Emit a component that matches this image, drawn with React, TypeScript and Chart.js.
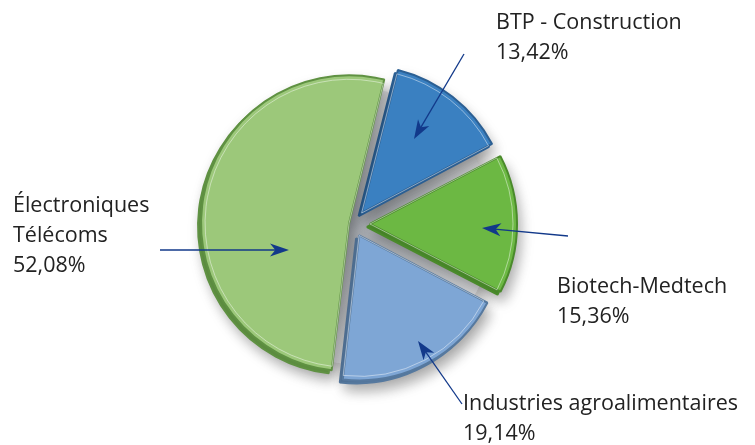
import React, { useEffect, useRef } from "react";
import { Chart, registerables } from "chart.js";

Chart.register(...registerables);

// ---- data ----
const categories = [
  "BTP - Construction",
  "Biotech-Medtech",
  "Industries agroalimentaires",
  "Électroniques Télécoms",
];
const shares = [13.42, 15.36, 19.14, 52.08];
const labelLines = [
  ["BTP - Construction"],
  ["Biotech-Medtech"],
  ["Industries agroalimentaires"],
  ["Électroniques", "Télécoms"],
];
const fillColors = ["#3a80c1", "#6cb843", "#7ea6d5", "#9cc87a"];
const rimColors = ["#2b5f93", "#4a8a2b", "#56799f", "#5f9142"];
const explode = [56, 68, 52, 16];

const formatShare = (v: number) => v.toFixed(2).replace(".", ",") + "%";

// annotation layout (label text anchor, arrow tail, arrow head)
const labelLayout = [
  { x: 496, y: 29, tail: [464, 54], head: [414, 139] },
  { x: 557, y: 293, tail: [568, 236], head: [482, 228] },
  { x: 463, y: 410, tail: [462, 404], head: [418, 341] },
  { x: 13, y: 212, tail: [160, 250], head: [289, 250] },
];
const LINE_H = 30;
const FONT = '21.5px "Open Sans", sans-serif';
const TEXT_COLOR = "#222222";
const ARROW_COLOR = "#12398a";

function drawArcVariant(ctx: CanvasRenderingContext2D, arc: any, overrides: any, props: any = {}) {
  const proxy = Object.create(arc);
  Object.assign(proxy, props);
  proxy.options = { ...arc.options, ...overrides };
  arc.draw.call(proxy, ctx);
}

const pie3dPlugin = {
  id: "pie3d",
  beforeDatasetsDraw(chart: any) {
    const ctx: CanvasRenderingContext2D = chart.ctx;
    const meta = chart.getDatasetMeta(0);
    const a0 = meta.data[0];
    // grey base disc
    ctx.save();
    const g = ctx.createRadialGradient(a0.x, a0.y, 0, a0.x, a0.y, a0.outerRadius);
    g.addColorStop(0, "#a9adb3");
    g.addColorStop(0.6, "#c4c7cb");
    g.addColorStop(1, "#e4e5e7");
    ctx.fillStyle = g;
    ctx.shadowColor = "rgba(0,0,0,0.25)";
    ctx.shadowBlur = 16;
    ctx.shadowOffsetX = 5;
    ctx.shadowOffsetY = 6;
    ctx.beginPath();
    ctx.arc(a0.x + 2, a0.y + 2, a0.outerRadius * 0.96, 0, Math.PI * 2);
    ctx.fill();
    ctx.restore();
    // extruded sides with drop shadow
    meta.data.forEach((arc: any, i: number) => {
      ctx.save();
      ctx.shadowColor = "rgba(0,0,0,0.35)";
      ctx.shadowBlur = 14;
      ctx.shadowOffsetX = 5;
      ctx.shadowOffsetY = 6;
      ctx.translate(-3, 3);
      drawArcVariant(ctx, arc, { backgroundColor: rimColors[i], borderColor: rimColors[i] });
      ctx.restore();
    });
  },
  afterDatasetsDraw(chart: any) {
    const ctx: CanvasRenderingContext2D = chart.ctx;
    const meta = chart.getDatasetMeta(0);
    // inner highlight line
    meta.data.forEach((arc: any) => {
      ctx.save();
      drawArcVariant(
        ctx,
        arc,
        { backgroundColor: "rgba(0,0,0,0)", borderColor: "rgba(255,255,255,0.45)", borderWidth: 1 },
        { outerRadius: arc.outerRadius - 4 }
      );
      ctx.restore();
    });
    // labels + arrows
    ctx.save();
    ctx.font = FONT;
    ctx.fillStyle = TEXT_COLOR;
    ctx.textBaseline = "alphabetic";
    ctx.textAlign = "left";
    labelLayout.forEach((l, i) => {
      const lines = [...labelLines[i], formatShare(shares[i])];
      lines.forEach((t, k) => ctx.fillText(t, l.x, l.y + k * LINE_H));
      // arrow
      const [tx, ty] = l.tail;
      const [hx, hy] = l.head;
      const ang = Math.atan2(hy - ty, hx - tx);
      const len = 19;
      const hw = 6.5;
      const bx = hx - Math.cos(ang) * len;
      const by = hy - Math.sin(ang) * len;
      ctx.strokeStyle = ARROW_COLOR;
      ctx.lineWidth = 1.3;
      ctx.beginPath();
      ctx.moveTo(tx, ty);
      ctx.lineTo(hx - Math.cos(ang) * 10, hy - Math.sin(ang) * 10);
      ctx.stroke();
      ctx.fillStyle = ARROW_COLOR;
      ctx.beginPath();
      ctx.moveTo(hx, hy);
      ctx.lineTo(bx - Math.sin(ang) * hw, by + Math.cos(ang) * hw);
      ctx.lineTo(hx - Math.cos(ang) * len * 0.72, hy - Math.sin(ang) * len * 0.72);
      ctx.lineTo(bx + Math.sin(ang) * hw, by - Math.cos(ang) * hw);
      ctx.closePath();
      ctx.fill();
      ctx.fillStyle = TEXT_COLOR;
    });
    ctx.restore();
  },
};

export default function App() {
  const ref = useRef<HTMLCanvasElement>(null);
  useEffect(() => {
    if (!ref.current) return;
    const chart = new Chart(ref.current, {
      type: "pie",
      data: {
        labels: categories,
        datasets: [
          {
            data: shares,
            backgroundColor: fillColors,
            borderColor: rimColors,
            borderWidth: 2,
            offset: explode,
          },
        ],
      },
      options: {
        responsive: false,
        devicePixelRatio: 1,
        animation: false,
        rotation: 14,
        radius: 144,
        layout: { padding: { left: 0, right: 49, top: 3, bottom: 0 } },
        plugins: {
          legend: { display: false },
          tooltip: { enabled: false },
        },
        events: [],
      },
      plugins: [pie3dPlugin],
    } as any);
    return () => chart.destroy();
  }, []);
  return (
    <div style={{ position: "absolute", left: 0, top: 0, width: 755, height: 445, background: "#fff" }}>
      <canvas ref={ref} width={755} height={445} style={{ display: "block" }} />
    </div>
  );
}
